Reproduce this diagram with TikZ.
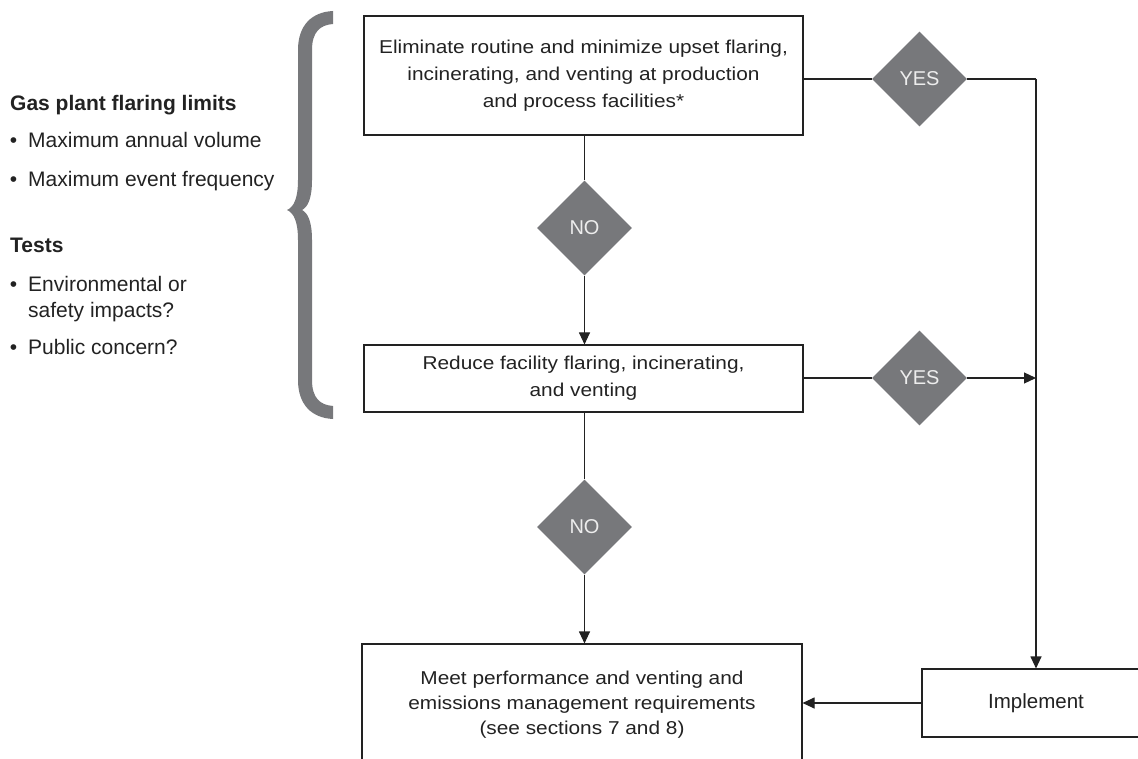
\documentclass[tikz,border=0pt]{standalone}
\usepackage{fontspec}
\setmainfont{Liberation Sans}
\newfontfamily\boxfont[FakeStretch=1.12]{Liberation Sans}
\usetikzlibrary{shapes.geometric,arrows.meta}
\definecolor{dgray}{HTML}{77787B}
\definecolor{ink}{HTML}{222222}
\definecolor{dtxt}{HTML}{EDEDED}
\begin{document}
\begin{tikzpicture}[x=1pt,y=-1pt,
 box/.style={draw=ink, line width=1.1pt, rectangle, inner sep=0pt, fill=white},
 btxt/.style={font=\boxfont\fontsize{18.6}{27}\selectfont, align=center, text=ink},
 dec/.style={diamond, fill=dgray, minimum width=95pt, minimum height=95pt, inner sep=0pt, text=dtxt, font=\fontsize{20}{24}\selectfont},
 conn/.style={draw=ink, line width=1.1pt},
 arr/.style={conn, -{Triangle[length=12pt,width=11pt]}},
 ltxt/.style={anchor=base west, font=\fontsize{21}{25}\selectfont, text=ink, inner sep=0pt},
 lbold/.style={anchor=base west, font=\fontsize{21}{25}\selectfont\bfseries, text=ink, inner sep=0pt},
]
\useasboundingbox (0,0) rectangle (1138,759);

% brace
\fill[dgray] (333,11) .. controls (312,12) and (298,25) .. (298,50) -- (298,180)
  .. controls (298,198) and (294,207) .. (287,210)
  .. controls (294,213) and (298,222) .. (298,240) -- (298,380)
  .. controls (298,405) and (312,418) .. (333,419) -- (333,406)
  .. controls (320,405) and (312,398) .. (312,380) -- (312,240)
  .. controls (312,222) and (308,213) .. (302,210)
  .. controls (308,207) and (312,198) .. (312,180) -- (312,50)
  .. controls (312,32) and (320,25) .. (333,24) -- cycle;

% left text
\node[lbold] (h1) at (10,110.7) {Gas plant flaring limits};
\node[ltxt] (l1) at (28,148) {\llap{•\hspace{11pt}}Maximum annual volume};
\node[ltxt] (l2) at (28,186.5) {\llap{•\hspace{11pt}}Maximum event frequency};
\node[lbold] (h2) at (10,253) {Tests};
\node[ltxt] (l3) at (28,291.5) {\llap{•\hspace{11pt}}Environmental or};
\node[ltxt] (l3b) at (28,318) {safety impacts?};
\node[ltxt] (l4) at (28,355) {\llap{•\hspace{11pt}}Public concern?};

% boxes
\node[box, btxt, minimum width=439pt, minimum height=119pt] (b1) at (583.5,75.5)
  {Eliminate routine and minimize upset flaring,\\incinerating, and venting at production\\and process facilities*};
\node[box, btxt, minimum width=439pt, minimum height=67pt] (b2) at (583.5,378.5)
  {Reduce facility flaring, incinerating,\\and venting};
\node[box, minimum width=440pt, minimum height=152pt] (m) at (582,720) {};
\node[btxt, font=\boxfont\fontsize{18.6}{25}\selectfont] (mt) at (582,705)
  {Meet performance and venting and\\emissions management requirements\\(see sections 7 and 8)};
\node[box, minimum width=228pt, minimum height=68pt, text=ink, font=\fontsize{20.5}{24}\selectfont] (impl) at (1036,703) {Implement};

% decisions
\node[dec] (yes1) at (919.5,79) {YES};
\node[dec] (yes2) at (919.5,378) {YES};
\node[dec] (no1) at (584.5,228) {NO};
\node[dec] (no2) at (584.5,527) {NO};

\coordinate (c1) at (1036,79);
\coordinate (c2) at (1036,378);

% connectors
\draw[conn] (b1.east |- yes1) -- (yes1.west);
\draw[conn] (yes1.east) -- (c1);
\draw[arr] (c1) -- (impl.north);
\draw[conn] (b2.east |- yes2) -- (yes2.west);
\draw[arr] (yes2.east) -- (c2);
\draw[conn] (b1.south -| no1) -- (no1.north);
\draw[arr] (no1.south) -- (no1.south |- b2.north);
\draw[conn] (b2.south -| no2) -- (no2.north);
\draw[arr] (no2.south) -- (no2.south |- m.north);
\draw[arr] (impl.west) -- (impl.west -| m.east);
\end{tikzpicture}
\end{document}
